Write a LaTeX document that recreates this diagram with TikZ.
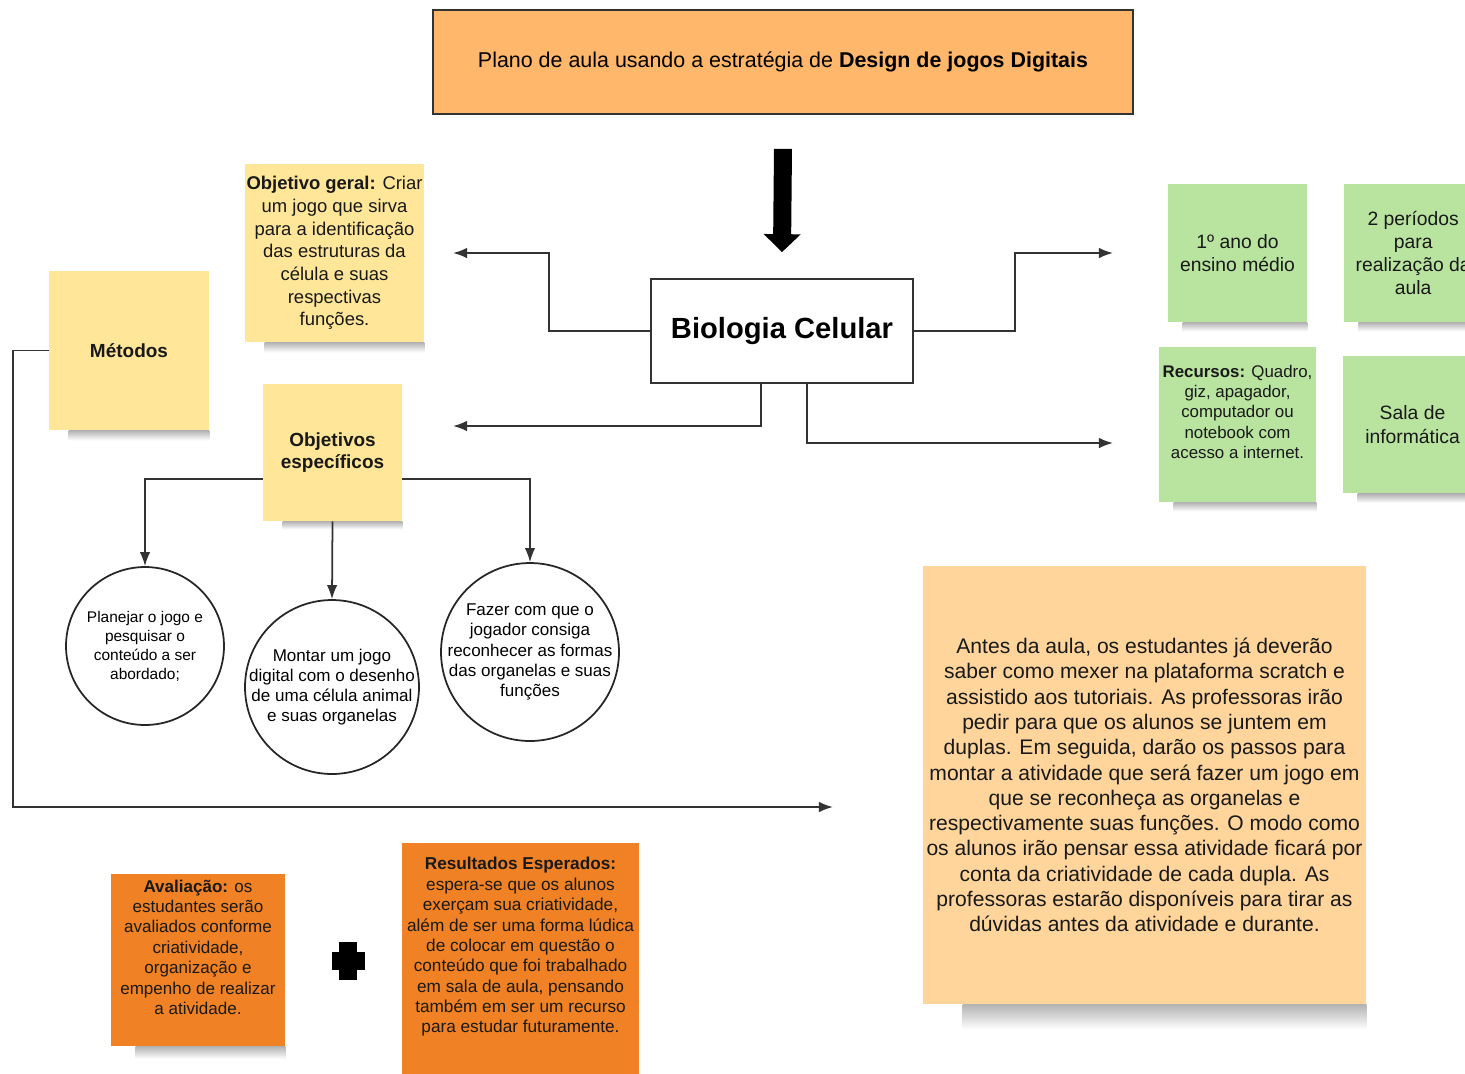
\documentclass[tikz,border=0pt]{standalone}
\usepackage{fontspec}
\setmainfont{Liberation Sans}
\usetikzlibrary{positioning, calc, arrows.meta}

\definecolor{titlefill}{HTML}{FFB86B}
\definecolor{noteyellow}{HTML}{FFE699}
\definecolor{notegreen}{HTML}{B9E4A0}
\definecolor{notepeach}{HTML}{FFD59B}
\definecolor{noteorange}{HTML}{F08124}
\definecolor{linegray}{HTML}{333333}

\begin{document}
\begin{tikzpicture}[
          x=0.02cm, y=-0.02cm,
          >={Latex[length=8pt,width=6pt]},
          note/.style={
              rectangle, align=center, inner sep=2pt, text=black!90
          },
          yellownote/.style={note, fill=noteyellow, font=\fontsize{10.8}{12.9}\selectfont},
          greennote/.style={note, fill=notegreen, minimum width=2.78cm, minimum height=2.76cm,
              font=\fontsize{11}{13.2}\selectfont},
          orangenote/.style={note, fill=noteorange, font=\fontsize{9.7}{11.6}\selectfont},
          box/.style={rectangle, draw=linegray, line width=1pt, align=center},
          goal/.style={circle, draw=black!85, line width=1pt, align=center, inner sep=-3pt},
          link/.style={draw=linegray, line width=1pt, ->},
          shadowstrip/.style={top color=black!30, bottom color=white},
      ]
          \useasboundingbox (0,0) rectangle (1465,1073);
          \clip (0,0) rectangle (1465,1073);

          % Title and topic
          \node [box, fill=titlefill, minimum width=14cm, minimum height=2.08cm,
              font=\fontsize{12.2}{14.6}\selectfont] (title) at (783,62)
              {Plano de aula usando a estratégia de \textbf{Design de jogos Digitais}};
          \node [box, minimum width=5.24cm, minimum height=2.08cm,
              font=\fontsize{16.6}{20}\selectfont\bfseries] (bio) at (782,331) {Biologia Celular};

          % Yellow notes
          \node [yellownote, inner sep=0pt, minimum width=3.58cm, minimum height=3.56cm,
              font=\fontsize{10.5}{12.9}\selectfont] (geral) at (334.5,253)
              {\textbf{Objetivo geral:} Criar\\um jogo que sirva\\para a identificação\\das estruturas da\\célula e suas\\respectivas\\funções.};
          \node [yellownote, minimum width=3.2cm, minimum height=3.18cm] (metodos) at (129,350.5)
              {\textbf{Métodos}};
          \node [yellownote, minimum width=2.78cm, minimum height=2.74cm] (esp) at (332.5,452.5)
              {\textbf{Objetivos}\\\textbf{específicos}};

          % Specific goals
          \node [goal, minimum size=3.16cm, font=\fontsize{8.8}{10.8}\selectfont] (c1) at (145,646)
              {Planejar o jogo e\\pesquisar o\\conteúdo a ser\\abordado;};
          \node [goal, minimum size=3.48cm, font=\fontsize{9.7}{11.5}\selectfont] (c2) at (332,687)
              {Montar um jogo\\digital com o desenho\\de uma célula animal\\e suas organelas};
          \node [goal, minimum size=3.56cm, font=\fontsize{9.7}{11.5}\selectfont] (c3) at (530,652)
              {Fazer com que o\\jogador consiga\\reconhecer as formas\\das organelas e suas\\funções};

          % Green notes
          \node [greennote] (ano) at (1237.5,253) {1º ano do\\ensino médio};
          \node [greennote, right=0.72cm of ano] (periodos) {2 períodos\\para\\realização da\\aula};
          \node [greennote, minimum width=3.14cm, minimum height=3.1cm,
              font=\fontsize{9.6}{11.5}\selectfont] (recursos) at (1237.5,424.5)
              {\textbf{Recursos:} Quadro,\\giz, apagador,\\computador ou\\notebook com\\acesso a internet.\\[3pt]\mbox{}};
          \node [greennote] (sala) at (1412.5,424.5) {Sala de\\informática};

          % Lesson description
          \node [note, fill=notepeach, minimum width=8.86cm, minimum height=8.76cm,
              font=\fontsize{12}{14.4}\selectfont] (aula) at (1144.5,785)
              {Antes da aula, os estudantes já deverão\\saber como mexer na plataforma scratch e\\assistido aos tutoriais. As professoras irão\\pedir para que os alunos se juntem em\\duplas. Em seguida, darão os passos para\\montar a atividade que será fazer um jogo em\\que se reconheça as organelas e\\respectivamente suas funções. O modo como\\os alunos irão pensar essa atividade ficará por\\conta da criatividade de cada dupla. As\\professoras estarão disponíveis para tirar as\\dúvidas antes da atividade e durante.};

          % Evaluation and results
          \node [orangenote, minimum width=3.48cm, minimum height=3.44cm] (aval) at (198,960)
              {\textbf{Avaliação:} os\\estudantes serão\\avaliados conforme\\criatividade,\\organização e\\empenho de realizar\\a atividade.\\[3pt]\mbox{}};
          \node [orangenote, minimum width=4.74cm, minimum height=4.16cm,
              font=\fontsize{9.8}{11.6}\selectfont] (result) at (520.5,947)
              {\textbf{Resultados Esperados:}\\espera-se que os alunos\\exerçam sua criatividade,\\além de ser uma forma lúdica\\de colocar em questão o\\conteúdo que foi trabalhado\\em sala de aula, pensando\\também em ser um recurso\\para estudar futuramente.};
          \fill [noteorange] (result.south west) rectangle ++(237,40);

          % Plus sign
          \fill (332,952) rectangle (365,970);
          \fill (339,942) rectangle (357,980);

          % Shadows
          \shade [shadowstrip] ([xshift=0.4cm]geral.south west) rectangle ([yshift=-0.2cm]geral.south east);
          \shade [shadowstrip] ([xshift=0.4cm]metodos.south west) rectangle ([yshift=-0.2cm]metodos.south east);
          \shade [shadowstrip] ([xshift=0.4cm]esp.south west) rectangle ([yshift=-0.16cm]esp.south east);
          \shade [shadowstrip] ([xshift=0.3cm]ano.south west) rectangle ([yshift=-0.18cm]ano.south east);
          \shade [shadowstrip] ([xshift=0.3cm]periodos.south west) rectangle ([yshift=-0.18cm]periodos.south east);
          \shade [shadowstrip] ([xshift=0.3cm]recursos.south west) rectangle ([yshift=-0.18cm]recursos.south east);
          \shade [shadowstrip] ([xshift=0.3cm]sala.south west) rectangle ([yshift=-0.18cm]sala.south east);
          \shade [shadowstrip] ([xshift=0.8cm]aula.south west) rectangle ([yshift=-0.5cm]aula.south east);
          \shade [shadowstrip] ([xshift=0.5cm]aval.south west) rectangle ([yshift=-0.25cm]aval.south east);

          % Free ends
          \coordinate (geralin) at (453,253);
          \coordinate (espin) at (453,426);
          \coordinate (anoin) at (1113,253);
          \coordinate (recin) at (1113,443);
          \coordinate (metout) at (833,807);

          % Arrows
          \draw [line width=0.36cm, -{Triangle[length=0.36cm,width=0.72cm]}]
              ([yshift=-0.68cm]title.south) -- ([yshift=0.52cm]bio.north);
          \draw [link] (bio.west) -- ++(-101,0) |- (geralin);
          \draw [link] ([xshift=-0.42cm]bio.south) |- (espin);
          \draw [link] (bio.east) -- ++(101,0) |- (anoin);
          \draw [link] ([xshift=0.5cm]bio.south) |- (recin);
          \draw [link] (metodos.west) -- ++(-36,0) |- (metout);
          \draw [link] ([yshift=-0.53cm]esp.west) -| (c1.north);
          \draw [link] (esp.south) -- (c2.north);
          \draw [link] ([yshift=-0.53cm]esp.east) -| (c3.north);
\end{tikzpicture}
\end{document}
